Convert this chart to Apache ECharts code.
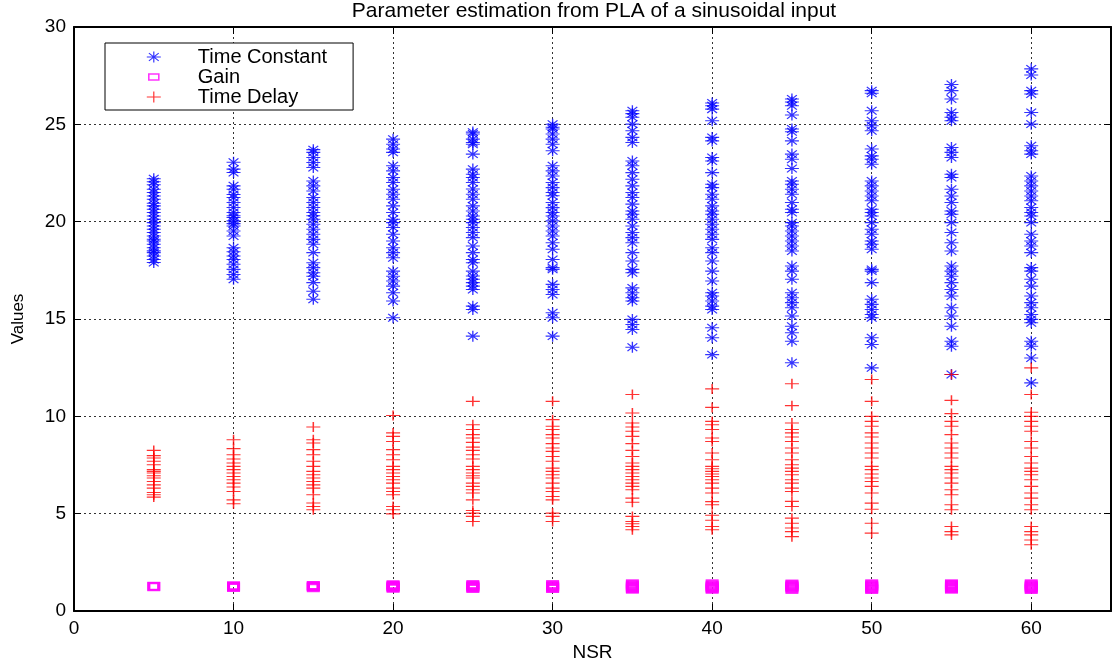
<!DOCTYPE html>
<html>
<head>
<meta charset="utf-8">
<style>
  html, body { margin: 0; padding: 0; background: #fff; }
  #chart { width: 1114px; height: 659px; }
</style>
<script src="https://cdn.jsdelivr.net/npm/echarts@6/dist/echarts.min.js"></script>
</head>
<body>
<div id="chart"></div>
<script>
// Noise-to-signal ratios at which the estimates were taken
const nsr = [5, 10, 15, 20, 25, 30, 35, 40, 45, 50, 55, 60];

// Estimated time constant, one list per NSR level
const timeConstant = [
  [22.2, 22.05, 21.9, 21.67, 21.5, 21.32, 21.15, 20.95, 20.81, 20.64, 20.47, 20.29, 20.12, 19.95, 19.78, 19.61, 19.44, 19.26, 19.1, 19.01, 18.84, 18.66, 18.5, 18.41, 18.24, 18.06, 17.9],
  [23.05, 22.7, 22.53, 21.84, 21.67, 21.4, 21.24, 20.98, 20.73, 20.47, 20.3, 20.21, 20.04, 19.9, 19.78, 19.52, 19.26, 18.66, 18.45, 18.24, 18.06, 17.81, 17.55, 17.29, 17.04],
  [23.7, 23.56, 23.3, 23.04, 22.78, 22.09, 21.84, 21.58, 21.24, 20.98, 20.73, 20.47, 20.3, 20.12, 19.87, 19.61, 19.35, 19.09, 18.84, 18.41, 17.89, 17.64, 17.38, 17.2, 16.87, 16.43, 16.01],
  [24.24, 23.98, 23.73, 23.56, 22.87, 22.61, 22.27, 22.01, 21.67, 21.41, 21.15, 20.81, 20.47, 20.12, 19.95, 19.7, 19.35, 19.01, 18.66, 18.41, 18.15, 17.46, 17.2, 16.95, 16.69, 16.35, 15.92, 15.06],
  [24.6, 24.5, 24.24, 24.07, 23.98, 23.47, 22.7, 22.44, 22.27, 22.01, 21.68, 21.41, 21.15, 20.81, 20.55, 20.29, 20.12, 19.95, 19.7, 19.44, 19.18, 18.75, 18.41, 18.06, 17.89, 17.46, 17.21, 17.04, 16.87, 16.69, 16.52, 15.66, 15.49, 14.12],
  [25.0, 24.85, 24.76, 24.5, 24.24, 23.98, 23.64, 22.87, 22.61, 22.35, 22.01, 21.75, 21.5, 21.33, 20.98, 20.72, 20.47, 20.29, 20.04, 19.78, 19.52, 19.26, 18.92, 18.58, 18.06, 17.64, 17.55, 16.78, 16.52, 16.26, 15.32, 15.06, 14.12],
  [25.7, 25.55, 25.36, 25.01, 24.67, 24.33, 24.07, 23.12, 22.87, 22.52, 22.18, 21.84, 21.5, 21.24, 20.9, 20.55, 20.38, 20.12, 19.78, 19.44, 19.18, 18.92, 18.41, 17.98, 17.55, 17.38, 16.6, 16.35, 16.09, 15.92, 14.98, 14.72, 14.46, 13.55],
  [26.1, 25.95, 25.78, 25.18, 24.33, 24.15, 23.3, 23.12, 22.52, 21.92, 21.75, 21.41, 21.15, 20.81, 20.55, 20.38, 20.12, 19.87, 19.61, 19.35, 19.09, 18.66, 18.41, 17.98, 17.46, 16.95, 16.35, 16.18, 15.92, 15.66, 15.49, 14.55, 14.04, 13.17],
  [26.3, 26.15, 25.95, 25.48, 24.76, 24.62, 24.15, 23.47, 23.21, 22.73, 22.09, 21.92, 21.67, 21.41, 20.98, 20.64, 20.47, 19.95, 19.78, 19.52, 19.26, 19.01, 18.75, 18.49, 17.72, 17.46, 17.04, 16.35, 16.09, 15.84, 15.58, 15.15, 14.63, 14.29, 13.86, 12.75],
  [26.73, 26.6, 25.7, 25.18, 24.93, 24.67, 23.73, 23.38, 23.21, 22.95, 22.09, 21.84, 21.58, 21.32, 21.07, 20.64, 20.47, 20.29, 19.95, 19.61, 19.35, 19.01, 18.84, 18.58, 17.55, 17.46, 16.87, 16.01, 15.75, 15.49, 15.23, 15.06, 14.04, 13.69, 12.49],
  [27.05, 26.73, 26.3, 25.61, 25.36, 25.18, 23.81, 23.56, 23.3, 22.44, 22.27, 21.67, 21.32, 20.98, 20.55, 20.38, 19.95, 19.44, 18.92, 18.49, 17.72, 17.46, 17.2, 16.87, 16.52, 16.18, 15.58, 15.15, 14.63, 13.86, 13.6, 12.15],
  [27.85, 27.53, 26.73, 26.56, 25.61, 25.01, 23.9, 23.64, 23.47, 22.35, 22.09, 21.84, 21.58, 21.32, 21.07, 20.73, 20.47, 20.29, 19.95, 19.35, 19.01, 18.75, 18.41, 17.64, 17.46, 17.04, 16.69, 16.18, 15.84, 15.58, 15.23, 14.98, 14.81, 13.86, 13.6, 13.0, 11.72]
];

// Estimated gain, one list per NSR level
const gain = [
  [1.25, 1.27],
  [1.21, 1.24, 1.27, 1.30],
  [1.20, 1.23, 1.26, 1.29, 1.31],
  [1.17, 1.20, 1.23, 1.26, 1.29, 1.32, 1.35],
  [1.16, 1.20, 1.24, 1.27, 1.31, 1.36],
  [1.16, 1.19, 1.23, 1.27, 1.30, 1.36],
  [1.12, 1.16, 1.20, 1.25, 1.29, 1.34, 1.40],
  [1.12, 1.15, 1.20, 1.24, 1.28, 1.33, 1.40],
  [1.11, 1.17, 1.22, 1.26, 1.30, 1.35, 1.39],
  [1.11, 1.14, 1.19, 1.25, 1.29, 1.34, 1.40],
  [1.12, 1.16, 1.21, 1.26, 1.31, 1.36, 1.40],
  [1.11, 1.15, 1.20, 1.25, 1.30, 1.35, 1.40]
];

// Estimated time delay, one list per NSR level
const timeDelay = [
  [8.25, 7.98, 7.86, 7.69, 7.51, 7.26, 7.17, 7.09, 6.95, 6.83, 6.65, 6.48, 6.31, 6.09, 5.97, 5.85],
  [8.8, 8.34, 8.03, 7.81, 7.6, 7.43, 7.26, 7.09, 6.91, 6.74, 6.57, 6.37, 6.14, 5.71, 5.51],
  [9.45, 8.8, 8.63, 8.29, 8.03, 7.69, 7.43, 7.17, 7.0, 6.83, 6.65, 6.48, 6.31, 5.97, 5.55, 5.37, 5.2],
  [10.04, 9.15, 8.97, 8.71, 8.29, 8.03, 7.77, 7.43, 7.26, 7.09, 6.91, 6.74, 6.57, 6.31, 6.14, 5.97, 5.37, 5.2, 4.99],
  [10.77, 9.57, 9.32, 9.06, 8.89, 8.66, 8.42, 8.25, 8.03, 7.81, 7.43, 7.26, 7.09, 6.95, 6.83, 6.57, 6.4, 6.23, 6.06, 5.71, 5.16, 5.03, 4.86, 4.6],
  [10.77, 9.83, 9.49, 9.32, 9.06, 8.89, 8.6, 8.37, 8.2, 7.94, 7.69, 7.34, 7.17, 7.0, 6.83, 6.57, 6.31, 6.14, 5.88, 5.71, 5.03, 4.86, 4.6],
  [11.12, 10.17, 9.66, 9.45, 9.23, 8.97, 8.6, 8.25, 7.94, 7.6, 7.43, 7.26, 7.09, 6.91, 6.74, 6.57, 6.4, 6.23, 5.8, 5.59, 4.86, 4.6, 4.48, 4.34, 4.17],
  [11.41, 10.46, 9.74, 9.57, 9.32, 8.89, 8.71, 8.12, 7.77, 7.43, 7.31, 7.17, 7.04, 6.91, 6.74, 6.57, 6.31, 6.06, 5.62, 5.46, 4.92, 4.66, 4.34, 4.17],
  [11.67, 10.55, 9.66, 9.32, 9.15, 8.94, 8.71, 8.37, 8.12, 7.77, 7.51, 7.34, 7.17, 7.0, 6.74, 6.57, 6.31, 6.14, 5.63, 5.37, 4.77, 4.51, 4.26, 4.08, 3.82],
  [11.89, 10.77, 10.0, 9.74, 9.49, 9.15, 8.94, 8.63, 8.37, 8.12, 7.86, 7.43, 7.26, 7.04, 6.83, 6.65, 6.4, 6.06, 5.54, 5.23, 4.51, 4.0],
  [12.15, 10.82, 10.14, 9.74, 9.49, 9.06, 8.63, 8.37, 8.12, 7.86, 7.43, 7.26, 7.09, 6.83, 6.57, 6.23, 5.97, 5.46, 5.2, 4.34, 4.08, 3.91],
  [12.49, 11.12, 10.21, 10.0, 9.74, 9.49, 9.23, 8.71, 8.37, 7.94, 7.6, 7.34, 7.17, 7.0, 6.74, 6.4, 6.06, 5.8, 5.46, 5.2, 4.34, 4.08, 3.91, 3.65, 3.4]
];

const seriesNames = ['Time Constant', 'Gain', 'Time Delay'];
const chartTitle = 'Parameter estimation from PLA of a sinusoidal input';

// Marker shapes: asterisk, plus, and a padded square for the legend
const STAR = 'path://M0 5L10 5M5 0L5 10M1.5 1.5L8.5 8.5M8.5 1.5L1.5 8.5';
const PLUS = 'path://M0 5L10 5M5 0L5 10';
const SQUARE_ICON = 'path://M0 0M14 11M2 2.5H12V8.5H2Z';

const FONT = '"Liberation Sans", Arial, Helvetica, sans-serif';
const BLUE = '#0000ff', MAGENTA = '#ff00ff', RED = '#ff0000';

function toPairs(groups) {
  const out = [];
  groups.forEach(function (vals, i) {
    vals.forEach(function (v) { out.push([nsr[i], v]); });
  });
  return out;
}

const gridLine = { show: true, lineStyle: { color: '#000', width: 1, type: [2, 3], opacity: 0.8 } };
const frameLine = { show: true, onZero: false, lineStyle: { color: '#000', width: 2 } };
const innerTick = { show: true, inside: true, length: 7, lineStyle: { color: '#000', width: 1 } };

const chart = echarts.init(document.getElementById('chart'), null, { renderer: 'canvas' });

chart.setOption({
  animation: false,
  backgroundColor: '#fff',
  title: {
    text: chartTitle,
    left: 594,
    textAlign: 'center',
    top: 0,
    padding: [1, 0, 0, 0],
    textStyle: { fontFamily: FONT, fontSize: 21, fontWeight: 'normal', color: '#000' }
  },
  legend: {
    orient: 'vertical',
    left: 105,
    top: 43,
    padding: [4, 26, 3, 41],
    itemGap: 0,
    itemWidth: 14,
    itemHeight: 11,
    symbolKeepAspect: false,
    selectedMode: false,
    backgroundColor: '#fff',
    borderColor: '#000',
    borderWidth: 1,
    borderRadius: 0,
    textStyle: { fontFamily: FONT, fontSize: 20, color: '#000', lineHeight: 20, padding: [0, 0, 0, 32] },
    data: [
      { name: seriesNames[0], icon: STAR, itemStyle: { color: 'rgba(0,0,0,0)', borderColor: BLUE, borderWidth: 1.2 } },
      { name: seriesNames[1], icon: SQUARE_ICON, itemStyle: { color: 'rgba(0,0,0,0)', borderColor: MAGENTA, borderWidth: 1.6 } },
      { name: seriesNames[2], icon: PLUS, itemStyle: { color: 'rgba(0,0,0,0)', borderColor: RED, borderWidth: 1.2 } }
    ]
  },
  grid: { left: 74, right: 3, top: 27, bottom: 48, containLabel: false, outerBoundsMode: 'none' },
  xAxis: [
    {
      type: 'value', position: 'bottom', min: 0, max: 65, interval: 10,
      name: 'NSR', nameLocation: 'middle', nameGap: 25,
      nameTextStyle: { fontFamily: FONT, fontSize: 19, color: '#000' },
      axisLine: frameLine, axisTick: innerTick,
      axisLabel: { fontFamily: FONT, fontSize: 19, color: '#000', margin: 8, showMaxLabel: false },
      splitLine: gridLine
    },
    {
      type: 'value', position: 'top', min: 0, max: 65, interval: 10,
      axisLine: frameLine, axisTick: innerTick,
      axisLabel: { show: false }, splitLine: { show: false }
    }
  ],
  yAxis: [
    {
      type: 'value', position: 'left', min: 0, max: 30, interval: 5,
      name: 'Values', nameLocation: 'middle', nameGap: 47, nameRotate: 90,
      nameTextStyle: { fontFamily: FONT, fontSize: 17, color: '#000' },
      axisLine: frameLine, axisTick: innerTick,
      axisLabel: { fontFamily: FONT, fontSize: 19, color: '#000', margin: 8 },
      splitLine: gridLine
    },
    {
      type: 'value', position: 'right', min: 0, max: 30, interval: 5,
      axisLine: frameLine, axisTick: innerTick,
      axisLabel: { show: false }, splitLine: { show: false }
    }
  ],
  series: [
    {
      name: seriesNames[0], type: 'scatter', silent: true,
      symbol: STAR, symbolSize: [14, 11],
      itemStyle: { color: 'rgba(0,0,0,0)', borderColor: BLUE, borderWidth: 1.2 },
      data: toPairs(timeConstant)
    },
    {
      name: seriesNames[1], type: 'scatter', silent: true,
      symbol: 'rect', symbolSize: [10, 7],
      itemStyle: { color: 'rgba(0,0,0,0)', borderColor: MAGENTA, borderWidth: 2.5 },
      data: toPairs(gain)
    },
    {
      name: seriesNames[2], type: 'scatter', silent: true,
      symbol: PLUS, symbolSize: [14, 10],
      itemStyle: { color: 'rgba(0,0,0,0)', borderColor: RED, borderWidth: 1.3 },
      data: toPairs(timeDelay)
    }
  ]
});
</script>
</body>
</html>
